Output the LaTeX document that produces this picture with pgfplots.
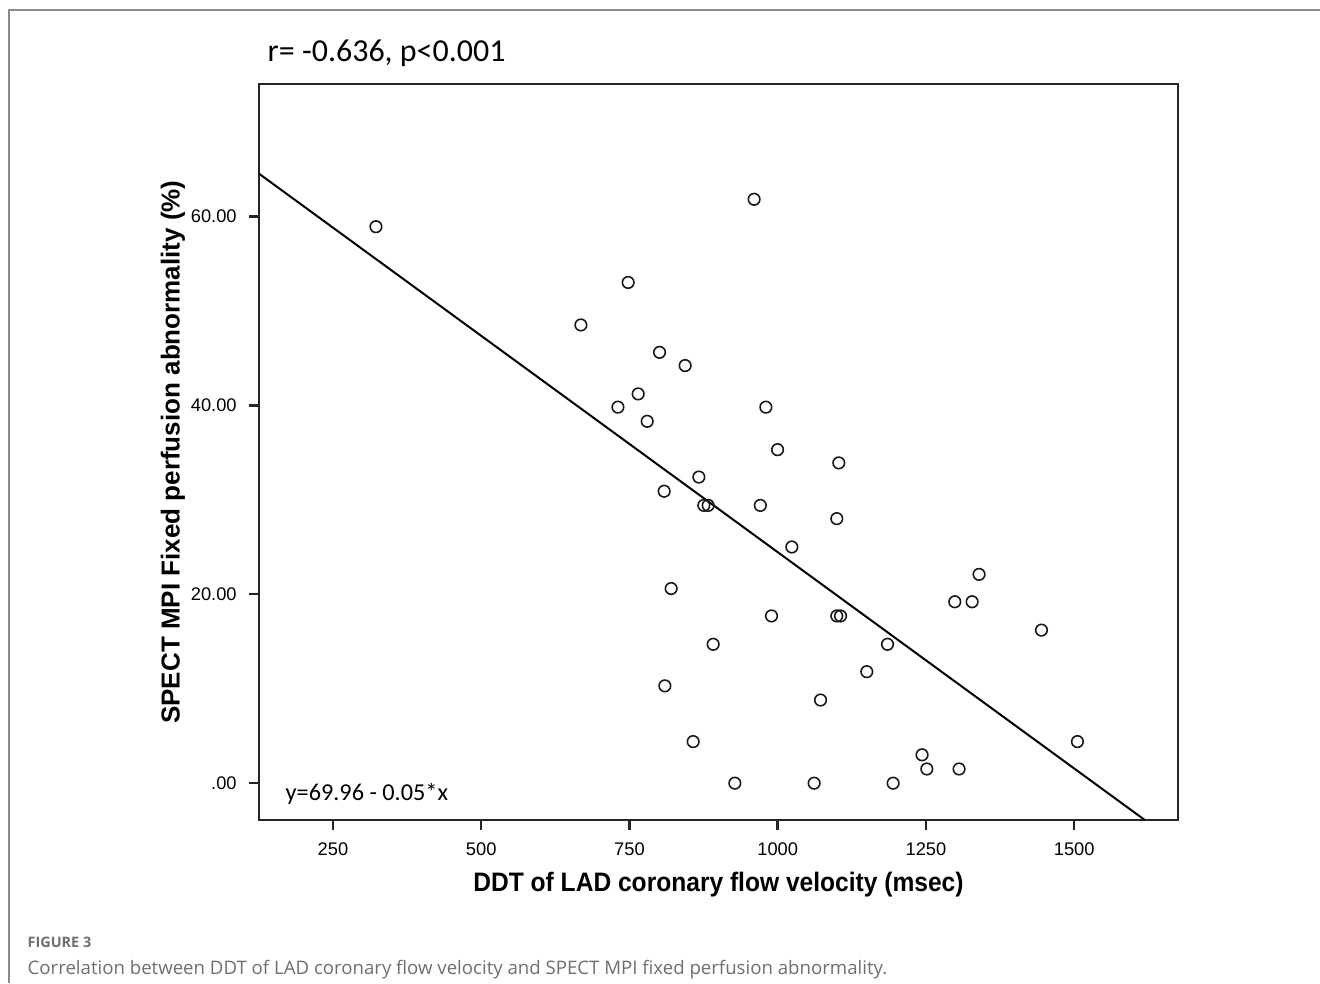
\documentclass[border=0pt]{standalone}
\usepackage{pgfplots}
\pgfplotsset{compat=1.18}
\usepackage{fontspec}
\setmainfont{Liberation Sans}
\newfontfamily\carlito{Carlito}
\newfontfamily\capfont{Open Sans}
\newfontfamily\xlabfont[FakeStretch=0.92]{Liberation Sans}
\definecolor{framegray}{HTML}{8A8A8A}
\definecolor{capgray}{HTML}{6E6E6E}
\begin{document}
\begin{tikzpicture}
\path[use as bounding box] (0,0) rectangle (132mm,98.3mm);
\draw[framegray, line width=0.15mm] (0.9mm,0) -- (0.9mm,97.3mm) -- (132mm,97.3mm);
\begin{axis}[
    at={(25.9mm,16.3mm)}, anchor=south west,
    scale only axis, width=91.9mm, height=73.6mm,
    xmin=125.3, xmax=1675, ymin=-3.9, ymax=74,
    axis line style={line width=0.25mm, black!85},
    tick style={line width=0.25mm, black!85},
    tick align=outside, major tick length=1mm,
    xtick pos=bottom, ytick pos=left,
    xtick={250,500,750,1000,1250,1500},
    ytick={0,20,40,60},
    yticklabels={.00,20.00,40.00,60.00},
    /pgf/number format/assume math mode=true,
    /pgf/number format/1000 sep={},
    tick label style={font=\fontsize{5.2pt}{6pt}\selectfont},
    xlabel={DDT of LAD coronary flow velocity (msec)},
    ylabel={SPECT MPI Fixed perfusion abnormality (\%)},
    xlabel style={font=\xlabfont\bfseries\fontsize{7.6pt}{9pt}\selectfont,
        at={(axis description cs:0.5,-0.0883)}, anchor=center},
    ylabel style={font=\bfseries\fontsize{7.4pt}{9pt}\selectfont,
        at={(axis description cs:-0.0936,0.5)}, anchor=center},
]
% regression line, end points
\addplot[black, line width=0.2mm] coordinates {(125.3,64.51) (1619,-3.9)};
\addplot[only marks, mark=o, mark size=0.58mm, mark options={line width=0.16mm, black!90}] coordinates {
(322.5,58.9) (960.2,61.8) (747.8,53.0) (668.1,48.5) (800.7,45.6)
(843.9,44.2) (764.7,41.2) (730.5,39.8) (779.9,38.3) (980.0,39.8)
(999.7,35.3) (1103.0,33.9) (867.0,32.4) (808.5,30.9) (875.4,29.4)
(882.7,29.4) (970.7,29.4) (1099.6,28.0) (1023.8,25.0) (1339.5,22.1)
(1298.6,19.2) (1327.8,19.2) (820.3,20.6) (989.5,17.7) (1099.6,17.7)
(1105.9,17.7) (1444.7,16.2) (891.1,14.7) (1185.1,14.7) (1150.2,11.8)
(809.7,10.3) (1072.2,8.8) (857.4,4.4) (1505.4,4.4) (1243.4,3.0)
(1251.4,1.5) (1305.8,1.5) (927.7,0) (1061.4,0) (1194.6,0)
};
\end{axis}
\node[anchor=base west, inner sep=0pt, font=\carlito\fontsize{9.1pt}{11pt}\selectfont] at (26.7mm,92.2mm) {r= -0.636, p<0.001};
\node[anchor=base west, inner sep=0pt, font=\carlito\fontsize{6.9pt}{8pt}\selectfont] at (28.5mm,18.3mm) {y=69.96 - 0.05*x};
\node[anchor=base west, inner sep=0pt, text=capgray, font=\capfont\bfseries\fontsize{4.1pt}{5pt}\selectfont] at (2.7mm,3.6mm) {FIGURE 3};
\node[anchor=base west, inner sep=0pt, text=capgray, font=\capfont\fontsize{5.3pt}{6pt}\selectfont] at (2.7mm,0.9mm) {Correlation between DDT of LAD coronary flow velocity and SPECT MPI fixed perfusion abnormality.};
\end{tikzpicture}
\end{document}
